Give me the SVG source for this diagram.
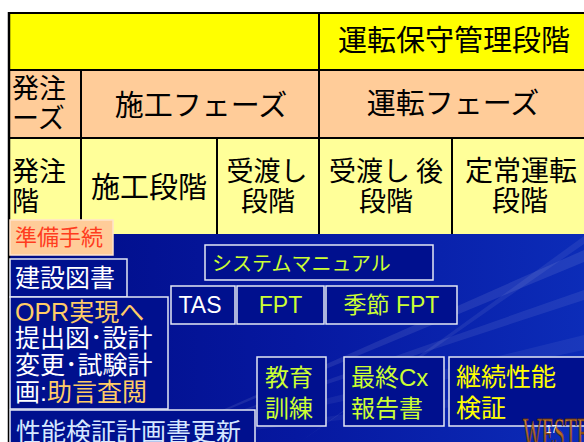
<svg xmlns="http://www.w3.org/2000/svg" width="584" height="442" viewBox="0 0 584 442">
<defs>
<linearGradient id="bg" x1="0" y1="0" x2="1" y2="0">
<stop offset="0" stop-color="#000C86"/>
<stop offset="0.5" stop-color="#0618A0"/>
<stop offset="1" stop-color="#0C2CB8"/>
</linearGradient>
<linearGradient id="logo" x1="0" y1="0" x2="0" y2="1">
<stop offset="0" stop-color="#F0A040"/>
<stop offset="1" stop-color="#7A3A10"/>
</linearGradient>
<style>
.hd{font-family:"Noto Sans CJK JP",sans-serif;fill:#000;}
.bx{fill:#00108E;stroke:#E4E8F4;stroke-width:1.5;}
.t{font-family:"Liberation Sans","Noto Sans CJK JP",sans-serif;}
.w{fill:#FFFFFF;}
.g{fill:#CCFF33;}
.y{fill:#FFFF00;}
.o{fill:#FFCC66;}
.grid{stroke:#000;stroke-width:2;fill:none;}
</style>
</defs>
<rect x="0" y="0" width="584" height="442" fill="#FFFFFF"/>
<!-- blue background -->
<rect x="9" y="234" width="575" height="208" fill="url(#bg)"/>
<g fill="#FFFFFF">
<polygon points="150,442 584,250 584,262" opacity="0.09"/>
<polygon points="150,442 584,290 584,300" opacity="0.08"/>
<polygon points="150,442 584,335 584,350" opacity="0.06"/>
<polygon points="150,442 584,380 584,392" opacity="0.05"/>
<polygon points="300,442 584,236 584,244" opacity="0.07"/>
</g>
<!-- table -->
<g id="table">
<rect x="9" y="13" width="575" height="57" fill="#FFFF00"/>
<rect x="9" y="70" width="575" height="68" fill="#FFCC99"/>
<rect x="9" y="138" width="575" height="96" fill="#FFFF99"/>
<path class="grid" d="M9,13 H584 M9,70 H584 M9,138 H584 M319,13 V234 M81,70 V234 M217,138 V234 M452,138 V234"/>
<path d="M9,12 V442" stroke="#000" stroke-width="2.5"/>
</g>
<g id="r1c2"><text class="hd" x="454" y="51" font-size="29" text-anchor="middle">運転保守管理段階</text></g>
<g id="r2c1"><text class="hd" x="12" y="98" font-size="27">発注</text><text class="hd" x="12" y="128" font-size="27">ーズ</text></g>
<g id="r2c2"><text class="hd" x="201" y="116" font-size="29" text-anchor="middle">施工フェーズ</text></g>
<g id="r2c3"><text class="hd" x="453" y="114" font-size="29" text-anchor="middle">運転フェーズ</text></g>
<g id="r3c1"><text class="hd" x="12" y="181" font-size="27">発注</text><text class="hd" x="12" y="211" font-size="27">階</text></g>
<g id="r3c2"><text class="hd" x="149" y="198" font-size="29" text-anchor="middle">施工段階</text></g>
<g id="r3c3"><text class="hd" x="267" y="181" font-size="27" text-anchor="middle">受渡し</text><text class="hd" x="268" y="211" font-size="27" text-anchor="middle">段階</text></g>
<g id="r3c4"><text class="hd" x="386" y="181" font-size="27" text-anchor="middle">受渡し 後</text><text class="hd" x="386" y="211" font-size="27" text-anchor="middle">段階</text></g>
<g id="r3c5"><text class="hd" x="521" y="181" font-size="28" text-anchor="middle">定常運転</text><text class="hd" x="520" y="211" font-size="28" text-anchor="middle">段階</text></g>
<!-- blue-area nodes -->
<g id="junbi"><rect x="10" y="220" width="103" height="35" fill="#FFCC99" stroke="#FFE4CC" stroke-width="1.5"/><text class="t" x="15" y="245" font-size="22" fill="#FF3C1E">準備手続</text></g>
<g id="kensetsu"><rect class="bx" x="10" y="259" width="117" height="38"/><text class="t w" x="15" y="287" font-size="25">建設図書</text></g>
<g id="opr"><rect class="bx" x="10" y="297" width="158" height="112"/>
<text class="t o" x="15" y="321" font-size="25">OPR実現へ</text>
<text class="t w" x="15" y="347" font-size="25">提出図･設計</text>
<text class="t w" x="15" y="374" font-size="25">変更･試験計</text>
<text class="t" x="15" y="401" font-size="25"><tspan class="w">画:</tspan><tspan class="o">助言査閲</tspan></text></g>
<g id="seino"><rect class="bx" x="10" y="410" width="245" height="40"/><text class="t" x="16" y="441" font-size="25" fill="#D6E8FF">性能検証計画書更新</text></g>
<g id="sysman"><rect class="bx" x="205" y="245" width="228" height="35"/><text class="t g" x="212" y="271" font-size="20">システムマニュアル</text></g>
<g id="tas"><rect class="bx" x="171" y="286" width="64" height="38"/><text class="t w" x="200" y="313" font-size="23" text-anchor="middle">TAS</text></g>
<g id="fpt"><rect class="bx" x="237" y="286" width="87" height="38"/><text class="t g" x="280.5" y="313" font-size="23" text-anchor="middle">FPT</text></g>
<g id="kisetsu"><rect class="bx" x="326" y="286" width="131" height="38"/><text class="t g" x="391.5" y="313" font-size="23" text-anchor="middle">季節 FPT</text></g>
<g id="kyoiku"><rect class="bx" x="257" y="357" width="69" height="69"/><text class="t g" x="265" y="386" font-size="24">教育</text><text class="t g" x="265" y="417" font-size="24">訓練</text></g>
<g id="saishu"><rect class="bx" x="344" y="357" width="100" height="69"/><text class="t g" x="351" y="386" font-size="24">最終Cx</text><text class="t g" x="351" y="417" font-size="24">報告書</text></g>
<g id="keizoku"><rect class="bx" x="449" y="357" width="140" height="69"/><text class="t y" x="456" y="386" font-size="25">継続性能</text><text class="t y" x="456" y="417" font-size="25">検証</text></g>
<g id="logo"><text transform="translate(523,448) scale(0.45,1)" font-family="Liberation Serif, serif" font-size="44" fill="url(#logo)" stroke="#5A2A08" stroke-width="0.8">WESTEC</text><text x="546" y="433" font-family="Liberation Sans, sans-serif" font-size="10" fill="#FFFFFF">17</text></g>
</svg>
